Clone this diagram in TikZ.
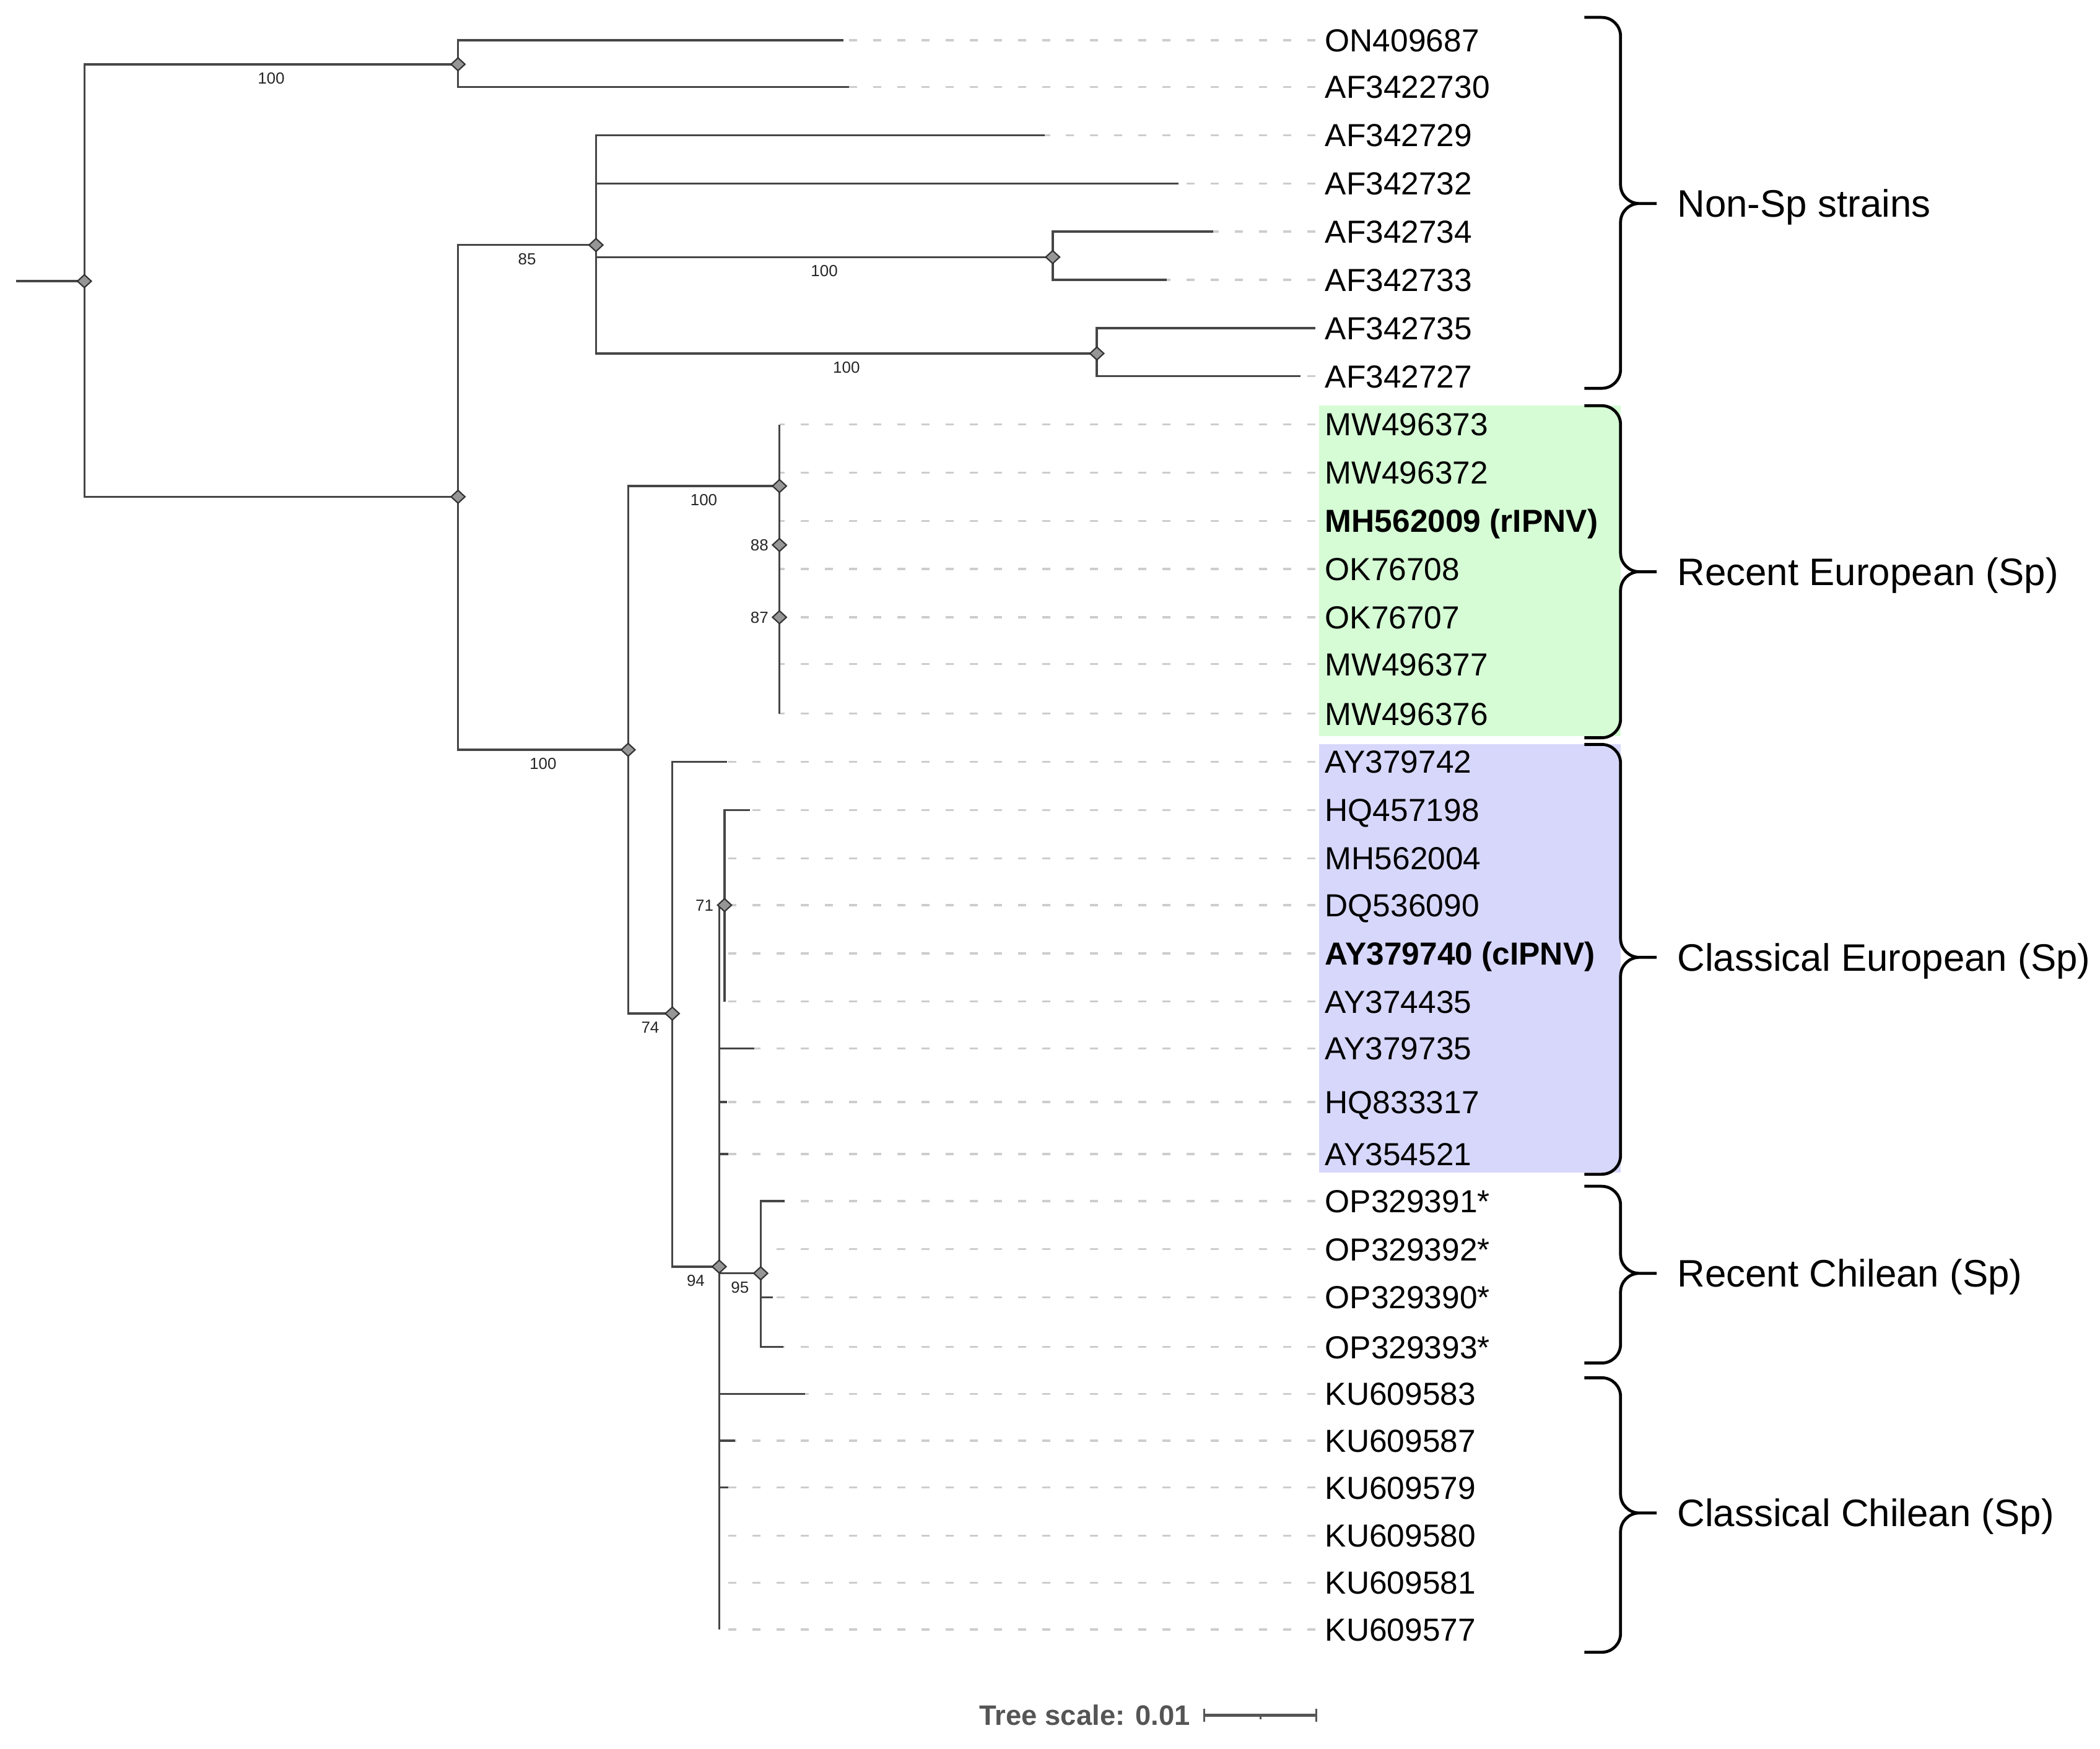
\documentclass[tikz,border=0pt]{standalone}
\usepackage{fontspec}
\setmainfont{Liberation Sans}
\usetikzlibrary{shapes.geometric}
\definecolor{branchgray}{RGB}{70,70,70}
\definecolor{guidegray}{RGB}{205,205,205}
\definecolor{bootgray}{RGB}{150,150,150}
\definecolor{eurgreen}{RGB}{213,252,213}
\definecolor{eurblue}{RGB}{215,215,252}
\definecolor{scalegray}{RGB}{85,85,85}
\begin{document}
\begin{tikzpicture}
    [%%%%%%%%%%%%%%%%%%%%%%%%%%%%%%
        x=0.5pt, y=-0.5pt,
        branch/.style={draw=branchgray, line width=0.8pt},
        guide/.style={draw=guidegray, line width=0.8pt, dash pattern=on 3pt off 6pt},
        boot/.style={diamond, draw=black!80, fill=bootgray, line width=0.5pt, inner sep=0pt, minimum width=5.4pt, minimum height=5pt},
        bs/.style={font=\fontsize{6}{7}\selectfont, text=black!85, inner sep=2.6pt, text height=4.3pt, text depth=0pt},
        leaf/.style={anchor=west, inner xsep=3.5pt, inner ysep=0pt, font=\fontsize{11.9}{14}\selectfont, text height=8.5pt, text depth=0pt},
        grp/.style={draw=black, line width=1.1pt, rounded corners=7pt},
        grplabel/.style={anchor=west, inner sep=0pt, font=\fontsize{14.3}{17}\selectfont, text height=10.2pt, text depth=0pt},
    ]%%%%%%%%%%%%%%%%%%%%%%%%%%%%%%
\useasboundingbox (0,0) rectangle (1568,1306);
\fill[eurgreen] (985,303) rectangle (1210,550);
\fill[eurblue] (985,556) rectangle (1210,876);
% inner nodes
\coordinate (stub) at (12,210);
\coordinate (r) at (63,210);
\coordinate (a) at (342,48);
\coordinate (b) at (342,371);
\coordinate (c) at (445,183);
\coordinate (d) at (786,192);
\coordinate (e) at (819,264);
\coordinate (f) at (469,560);
\coordinate (g) at (582,363);
\coordinate (h) at (582,407);
\coordinate (i) at (582,461);
\coordinate (j) at (502,757);
\coordinate (k) at (537,946);
\coordinate (m) at (541,676);
\coordinate (n) at (568,951);
% branch tips
\coordinate (t1) at (630,30);
\coordinate (t2) at (634,65);
\coordinate (t3) at (780,101);
\coordinate (t4) at (880,137);
\coordinate (t5) at (906,173);
\coordinate (t6) at (871,209);
\coordinate (t7) at (982,245);
\coordinate (t8) at (971,281);
\coordinate (t9) at (582,317);
\coordinate (t10) at (582,353);
\coordinate (t11) at (582,389);
\coordinate (t12) at (582,425);
\coordinate (t13) at (582,461);
\coordinate (t14) at (582,496);
\coordinate (t15) at (582,533);
\coordinate (t16) at (543,569);
\coordinate (t17) at (560,605);
\coordinate (t18) at (541,641);
\coordinate (t19) at (541,676);
\coordinate (t20) at (541,712);
\coordinate (t21) at (541,748);
\coordinate (t22) at (563,783);
\coordinate (t23) at (543,823);
\coordinate (t24) at (544,862);
\coordinate (t25) at (586,897);
\coordinate (t26) at (568,933);
\coordinate (t27) at (577,969);
\coordinate (t28) at (585,1006);
\coordinate (t29) at (601,1041);
\coordinate (t30) at (549,1076);
\coordinate (t31) at (544,1111);
\coordinate (t32) at (537,1147);
\coordinate (t33) at (537,1182);
\coordinate (t34) at (537,1217);
% leaf labels
\node[leaf] (l1) at (982,30) {ON409687};
\node[leaf] (l2) at (982,65) {AF3422730};
\node[leaf] (l3) at (982,101) {AF342729};
\node[leaf] (l4) at (982,137) {AF342732};
\node[leaf] (l5) at (982,173) {AF342734};
\node[leaf] (l6) at (982,209) {AF342733};
\node[leaf] (l7) at (982,245) {AF342735};
\node[leaf] (l8) at (982,281) {AF342727};
\node[leaf] (l9) at (982,317) {MW496373};
\node[leaf] (l10) at (982,353) {MW496372};
\node[leaf] (l11) at (982,389) {\bfseries MH562009 (rIPNV)};
\node[leaf] (l12) at (982,425) {OK76708};
\node[leaf] (l13) at (982,461) {OK76707};
\node[leaf] (l14) at (982,496) {MW496377};
\node[leaf] (l15) at (982,533) {MW496376};
\node[leaf] (l16) at (982,569) {AY379742};
\node[leaf] (l17) at (982,605) {HQ457198};
\node[leaf] (l18) at (982,641) {MH562004};
\node[leaf] (l19) at (982,676) {DQ536090};
\node[leaf] (l20) at (982,712) {\bfseries AY379740 (cIPNV)};
\node[leaf] (l21) at (982,748) {AY374435};
\node[leaf] (l22) at (982,783) {AY379735};
\node[leaf] (l23) at (982,823) {HQ833317};
\node[leaf] (l24) at (982,862) {AY354521};
\node[leaf] (l25) at (982,897) {OP329391*};
\node[leaf] (l26) at (982,933) {OP329392*};
\node[leaf] (l27) at (982,969) {OP329390*};
\node[leaf] (l28) at (982,1006) {OP329393*};
\node[leaf] (l29) at (982,1041) {KU609583};
\node[leaf] (l30) at (982,1076) {KU609587};
\node[leaf] (l31) at (982,1111) {KU609579};
\node[leaf] (l32) at (982,1147) {KU609580};
\node[leaf] (l33) at (982,1182) {KU609581};
\node[leaf] (l34) at (982,1217) {KU609577};
% dashed guides
\draw[guide] (l1.west) -- (t1) (l2.west) -- (t2) (l3.west) -- (t3) (l4.west) -- (t4)
    (l5.west) -- (t5) (l6.west) -- (t6) (l8.west) -- (t8) (l9.west) -- (t9)
    (l10.west) -- (t10) (l11.west) -- (t11) (l12.west) -- (t12) (l13.west) -- (t13)
    (l14.west) -- (t14) (l15.west) -- (t15) (l16.west) -- (t16) (l17.west) -- (t17)
    (l18.west) -- (t18) (l19.west) -- (t19) (l20.west) -- (t20) (l21.west) -- (t21)
    (l22.west) -- (t22) (l23.west) -- (t23) (l24.west) -- (t24) (l25.west) -- (t25)
    (l26.west) -- (t26) (l27.west) -- (t27) (l28.west) -- (t28) (l29.west) -- (t29)
    (l30.west) -- (t30) (l31.west) -- (t31) (l32.west) -- (t32) (l33.west) -- (t33)
    (l34.west) -- (t34);
% branches
\draw[branch] (stub) -- (r);
\draw[branch] (r) |- node[bs, below, pos=0.75] (s-a) {100} (a);
\draw[branch] (r) |- (b);
\draw[branch] (a) |- (t1) (a) |- (t2);
\draw[branch] (b) |- node[bs, below, pos=0.75] (s-c) {85} (c);
\draw[branch] (b) |- node[bs, below, pos=0.75] (s-f) {100} (f);
\draw[branch] (c) |- (t3) (c) |- (t4);
\draw[branch] (c) |- node[bs, below, pos=0.75] (s-d) {100} (d);
\draw[branch] (c) |- node[bs, below, pos=0.75] (s-e) {100} (e);
\draw[branch] (d) |- (t5) (d) |- (t6);
\draw[branch] (e) |- (t7) (e) |- (t8);
\draw[branch] (f) |- node[bs, below, pos=0.75] (s-g) {100} (g);
\draw[branch] (f) |- node[bs, below, pos=0.75] (s-j) {74} (j);
\draw[branch] (g) |- (t9) (g) |- (t10) (g) -- (h);
\draw[branch] (h) |- (t11) (h) |- (t12) (h) -- (i);
\draw[branch] (i) |- (t13) (i) |- (t14) (i) |- (t15);
\draw[branch] (j) |- (t16);
\draw[branch] (j) |- node[bs, below, pos=0.75] (s-k) {94} (k);
\draw[branch] (k) |- (m) (k) |- (t22) (k) |- (t23) (k) |- (t24);
\draw[branch] (k) |- node[bs, below, pos=0.75] (s-n) {95} (n);
\draw[branch] (k) |- (t29) (k) |- (t30) (k) |- (t31) (k) |- (t32) (k) |- (t33) (k) |- (t34);
\draw[branch] (m) |- (t17) (m) |- (t18) (m) |- (t19) (m) |- (t20) (m) |- (t21);
\draw[branch] (n) |- (t25) (n) |- (t26) (n) |- (t27) (n) |- (t28);
% bootstrap marks
\node[boot] (r-d) at (r) {};
\node[boot] (a-d) at (a) {};
\node[boot] (b-d) at (b) {};
\node[boot] (c-d) at (c) {};
\node[boot] (d-d) at (d) {};
\node[boot] (e-d) at (e) {};
\node[boot] (f-d) at (f) {};
\node[boot] (g-d) at (g) {};
\node[boot] (h-d) at (h) {};
\node[boot] (i-d) at (i) {};
\node[boot] (j-d) at (j) {};
\node[boot] (k-d) at (k) {};
\node[boot] (m-d) at (m) {};
\node[boot] (n-d) at (n) {};
\node[bs, left, inner xsep=1pt] (s-h) at (h-d.west) {88};
\node[bs, left, inner xsep=1pt] (s-i) at (i-d.west) {87};
\node[bs, left, inner xsep=1pt] (s-m) at (m-d.west) {71};
% groups
\draw[grp] (1183,13) -| (1210,152) -- (1237,152) (1237,152) -- (1210,152) |- (1183,290);
\draw[grp] (1183,303) -| (1210,427) -- (1237,427) (1237,427) -- (1210,427) |- (1183,551);
\draw[grp] (1183,556) -| (1210,715) -- (1237,715) (1237,715) -- (1210,715) |- (1183,877);
\draw[grp] (1183,886) -| (1210,951) -- (1237,951) (1237,951) -- (1210,951) |- (1183,1018);
\draw[grp] (1183,1029) -| (1210,1130) -- (1237,1130) (1237,1130) -- (1210,1130) |- (1183,1234);
\node[grplabel] (g1) at (1252,152) {Non-Sp strains};
\node[grplabel] (g2) at (1252,427) {Recent European (Sp)};
\node[grplabel] (g3) at (1252,715) {Classical European (Sp)};
\node[grplabel] (g4) at (1252,951) {Recent Chilean (Sp)};
\node[grplabel] (g5) at (1252,1130) {Classical Chilean (Sp)};
% scale
\node[anchor=east, inner sep=0pt, text=scalegray, font=\bfseries\fontsize{10.5}{12}\selectfont, text height=7.5pt, text depth=0pt] (tscale) at (889,1281) {Tree scale: 0.01};
\coordinate (sbl) at (899,1281);
\coordinate (sbm) at (941,1281);
\coordinate (sbr) at (983,1281);
\draw[scalegray, line width=1pt] (sbl) -- (sbr);
\draw[scalegray, line width=0.7pt] ([yshift=2.5pt]sbl) -- ([yshift=-2.5pt]sbl)
    ([yshift=2.5pt]sbr) -- ([yshift=-2.5pt]sbr) (sbm) -- ([yshift=-1.6pt]sbm);
\end{tikzpicture}
\end{document}
